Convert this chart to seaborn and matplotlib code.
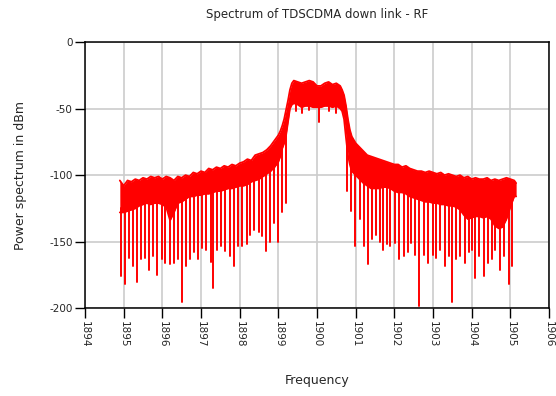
import numpy as np
import pandas as pd
import matplotlib
matplotlib.use("Agg")
import matplotlib.pyplot as plt
from matplotlib.ticker import MultipleLocator
import seaborn as sns

# ---- data ----
band_freq = [1894.90, 1895.00, 1895.10, 1895.20, 1895.30, 1895.40, 1895.50, 1895.60, 1895.70, 1895.80,
             1895.90, 1896.00, 1896.10, 1896.20, 1896.30, 1896.40, 1896.50, 1896.60, 1896.70, 1896.80,
             1896.90, 1897.00, 1897.10, 1897.20, 1897.30, 1897.40, 1897.50, 1897.60, 1897.70, 1897.80,
             1897.90, 1898.00, 1898.10, 1898.20, 1898.30, 1898.40, 1898.50, 1898.60, 1898.70, 1898.80,
             1898.90, 1899.00, 1899.05, 1899.10, 1899.15, 1899.20, 1899.25, 1899.30, 1899.35, 1899.40,
             1899.50, 1899.60, 1899.70, 1899.80, 1899.90, 1900.00, 1900.10, 1900.20, 1900.30, 1900.40,
             1900.50, 1900.60, 1900.65, 1900.70, 1900.75, 1900.80, 1900.85, 1900.90, 1901.00, 1901.10,
             1901.20, 1901.30, 1901.40, 1901.50, 1901.60, 1901.70, 1901.80, 1901.90, 1902.00, 1902.10,
             1902.20, 1902.30, 1902.40, 1902.50, 1902.60, 1902.70, 1902.80, 1902.90, 1903.00, 1903.10,
             1903.20, 1903.30, 1903.40, 1903.50, 1903.60, 1903.70, 1903.80, 1903.90, 1904.00, 1904.10,
             1904.20, 1904.30, 1904.40, 1904.50, 1904.60, 1904.70, 1904.80, 1904.90, 1905.00, 1905.10,
             1905.15]
band_top = [-104, -108, -104, -105, -103, -104, -102, -103, -101, -102,
            -101, -103, -101, -102, -104, -101, -102, -100, -101, -98,
            -99, -97, -98, -95, -96, -94, -95, -93, -94, -92,
            -93, -91, -90, -88, -89, -85, -84, -83, -81, -78,
            -74, -70, -67, -63, -58, -51, -44, -36, -31, -29,
            -30, -31, -30, -29, -30, -33, -33, -31, -30, -32,
            -31, -33, -36, -40, -48, -58, -66, -71, -76, -79,
            -82, -85, -86, -87, -88, -89, -90, -91, -92, -92,
            -94, -93, -95, -96, -97, -97, -98, -97, -98, -99,
            -98, -100, -99, -100, -101, -100, -102, -101, -103, -102,
            -103, -103, -102, -104, -103, -104, -103, -102, -103, -104,
            -106]
band_low = [-128, -128, -127, -126, -125, -123, -122, -121, -122, -121,
            -121, -122, -124, -134, -128, -121, -120, -118, -116, -116,
            -115, -115, -114, -114, -113, -112, -112, -111, -110, -110,
            -109, -108, -108, -107, -105, -104, -103, -101, -99, -97,
            -94, -90, -86, -80, -76, -70, -60, -50, -47, -46,
            -47, -49, -48, -48, -49, -49, -49, -48, -48, -49,
            -48, -50, -52, -58, -72, -85, -92, -97, -100, -103,
            -106, -108, -110, -110, -110, -109, -109, -110, -112, -113,
            -113, -114, -116, -117, -118, -119, -120, -120, -121, -121,
            -122, -122, -123, -123, -124, -126, -130, -133, -132, -131,
            -131, -132, -131, -133, -138, -140, -139, -133, -124, -116,
            -116]

spike_freq = [1894.94, 1895.03, 1895.14, 1895.24, 1895.34, 1895.44, 1895.54, 1895.65, 1895.77, 1895.87,
              1895.98, 1896.08, 1896.20, 1896.30, 1896.40, 1896.50, 1896.60, 1896.71, 1896.82, 1896.92,
              1897.03, 1897.14, 1897.25, 1897.32, 1897.42, 1897.52, 1897.63, 1897.74, 1897.85, 1897.95,
              1898.06, 1898.18, 1898.28, 1898.38, 1898.50, 1898.58, 1898.67, 1898.78, 1898.88, 1898.99,
              1899.10, 1899.21,
              1899.45, 1899.62, 1899.80, 1900.05, 1900.30, 1900.50,
              1900.78, 1900.88, 1900.99, 1901.10, 1901.21, 1901.31, 1901.42, 1901.53, 1901.64, 1901.71,
              1901.81, 1901.90, 1902.03, 1902.13, 1902.24, 1902.35, 1902.44, 1902.54, 1902.65, 1902.76,
              1902.87, 1902.99, 1903.09, 1903.19, 1903.30, 1903.41, 1903.49, 1903.60, 1903.71, 1903.82,
              1903.92, 1904.01, 1904.09, 1904.18, 1904.31, 1904.42, 1904.53, 1904.61, 1904.72, 1904.83,
              1904.96, 1905.04]
spike_depth = [-176, -182, -162, -168, -180, -163, -162, -171, -161, -175,
               -163, -166, -167, -166, -163, -195, -168, -163, -158, -163,
               -155, -156, -165, -185, -156, -153, -157, -161, -168, -153,
               -153, -152, -145, -141, -143, -146, -157, -150, -136, -150,
               -128, -121,
               -52, -53, -51, -60, -52, -53,
               -112, -127, -153, -133, -153, -167, -148, -145, -150, -156,
               -152, -153, -151, -163, -161, -158, -151, -160, -198, -160,
               -166, -160, -162, -156, -168, -161, -195, -163, -161, -166,
               -158, -156, -177, -161, -176, -166, -163, -156, -171, -161,
               -182, -168]

x_ticks = [1894, 1895, 1896, 1897, 1898, 1899, 1900, 1901, 1902, 1903, 1904, 1905, 1906]
y_ticks = [0, -50, -100, -150, -200]

title = "Spectrum of TDSCDMA down link - RF"
xlabel = "Frequency"
ylabel = "Power spectrum in dBm"

# ---- tables ----
band = pd.DataFrame({"freq": band_freq, "top": band_top, "low": band_low})
spike_start = np.interp(spike_freq, band_freq, band_low) + 3
spikes = pd.DataFrame({
    "freq": np.repeat(spike_freq, 2),
    "power": np.ravel(np.column_stack([spike_start, spike_depth])),
    "spike": np.repeat(np.arange(len(spike_freq)), 2),
})

# ---- style ----
sns.set_style("white")
plt.rcParams["font.family"] = ["DejaVu Sans"]

fig = plt.figure(figsize=(5.56, 3.96), dpi=100)
ax = fig.add_axes([0.1529, 0.2215, 0.8345, 0.6725])

red = "#ff0000"
ax.fill_between(band["freq"], band["low"], band["top"], color=red, lw=0, zorder=3)
sns.lineplot(data=band, x="freq", y="top", color=red, lw=1.3, ax=ax, zorder=3)
sns.lineplot(data=band, x="freq", y="low", color=red, lw=1.3, ax=ax, zorder=3)
sns.lineplot(data=spikes, x="freq", y="power", units="spike", estimator=None,
             sort=False, color=red, lw=1.4, ax=ax, zorder=3)

ax.set_xlim(1894, 1906)
ax.set_ylim(-200, 0)
ax.set_xticks(x_ticks)
ax.set_xticklabels([str(t) for t in x_ticks], rotation=-90, fontsize=7.5)
ax.set_yticks(y_ticks)
ax.set_yticklabels([str(t) for t in y_ticks], fontsize=7.5)
ax.xaxis.set_minor_locator(MultipleLocator(0.5))
ax.yaxis.set_minor_locator(MultipleLocator(10))
ax.tick_params(axis="both", which="major", direction="out", length=7, width=1.0,
               color="black", pad=2)
ax.tick_params(axis="both", which="minor", direction="out", length=3, width=0.8,
               color="black")
ax.tick_params(bottom=True, left=True, top=False, right=False)

ax.grid(True, which="major", color="#cccccc", lw=1.2, zorder=0)
ax.set_axisbelow(True)
for s in ax.spines.values():
    s.set_color("black")
    s.set_linewidth(1.1)
    s.set_visible(True)

ax.set_title(title, fontsize=8.5, pad=17)
ax.set_xlabel(xlabel, fontsize=9, labelpad=19)
ax.set_ylabel(ylabel, fontsize=9, labelpad=16)

fig.savefig("out.png", dpi=100)
